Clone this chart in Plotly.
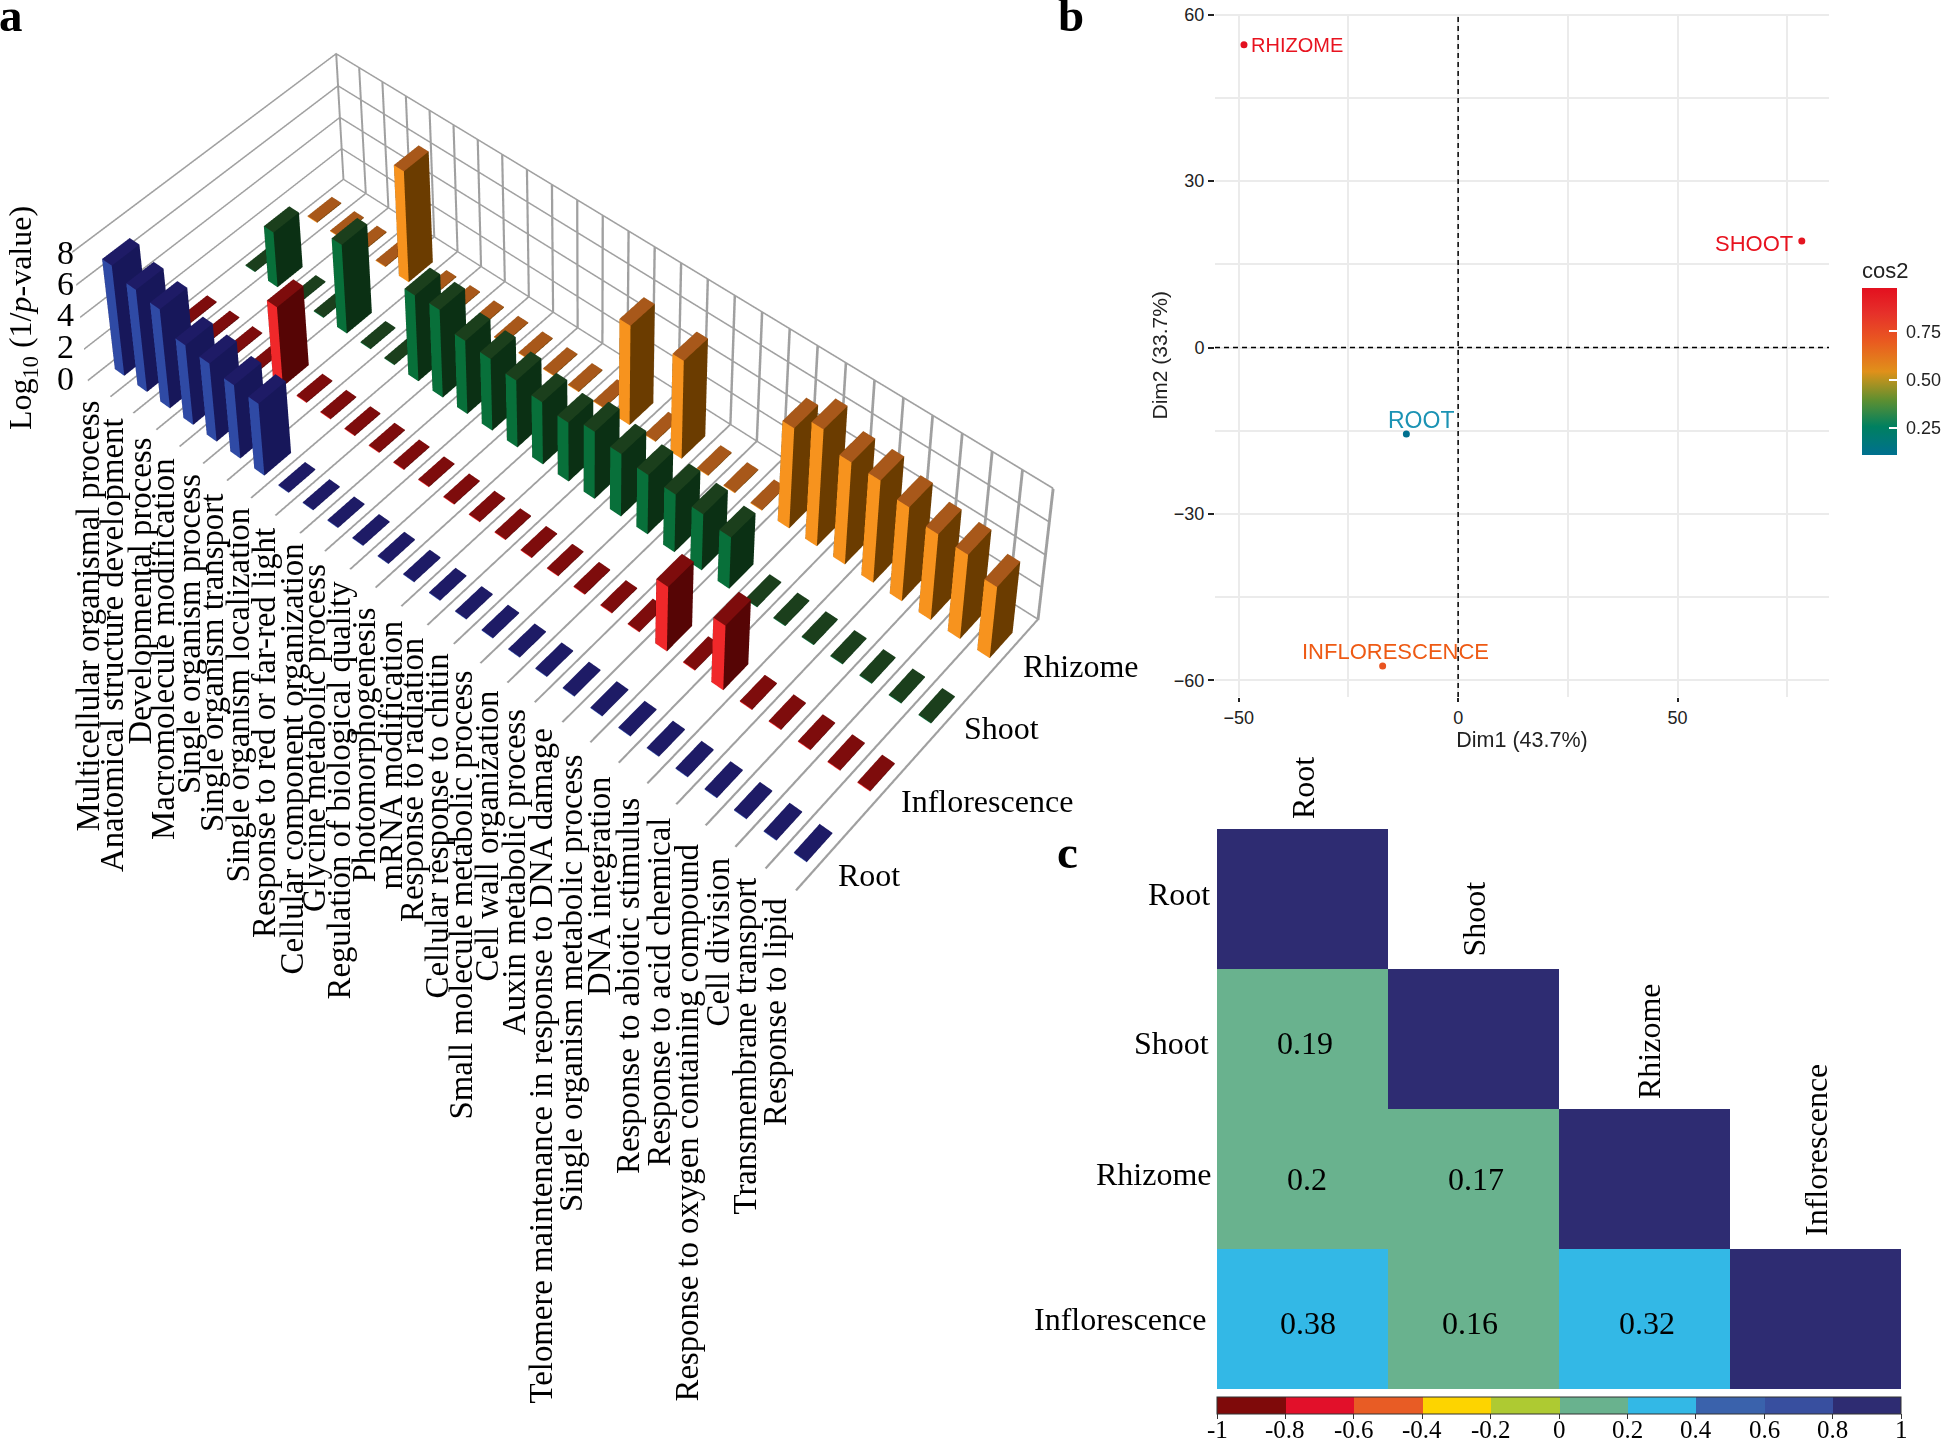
import plotly.graph_objects as go

W, H = 1944, 1441
# The figure is taller than the window and lifted by PT so the 3-D scene's optical centre
# falls above the visible page, which is what the reference's perspective needs.
PL, PT = 0, 1800
W2, H2 = W + PL, H + PT
def fx(p): return (p + PL) / W2
def fy(p): return 1 - (p + PT) / H2

# ---------- panel a data ----------
terms = ["Multicellular organismal process","Anatomical structure development","Developmental process",
 "Macromolecule modification","Single organism process","Single organism transport","Single organism localization",
 "Response to red or far-red light","Cellular component organization","Glycine metabolic process",
 "Regulation of biological quality","Photomorphogenesis","mRNA modification","Response to radiation",
 "Cellular response to chitin","Small molecule metabolic process","Cell wall organization","Auxin metabolic process",
 "Telomere maintenance in response to DNA damage","Single organism metabolic process","DNA integration",
 "Response to abiotic stimulus","Response to acid chemical","Response to oxygen containing compound","Cell division",
 "Transmembrane transport","Response to lipid"]
samples = ["Root","Inflorescence","Shoot","Rhizome"]
root_vals = [6.9,6.4,6.2,5.0,4.9,4.6,4.5,.05,.05,.05,.05,.05,.05,.05,.05,.05,.05,.05,.05,.05,.05,.05,.05,.05,.05,.05,.05]
infl_vals = [.05,.05,.05,.05,5.0,.05,.05,.05,.05,.05,.05,.05,.05,.05,.05,.05,.05,.05,.05,4.0,.05,4.0,.05,.05,.05,.05,.05]
shoot_vals = [.05,3.5,.05,.05,5.6,.05,.05,5.4,5.5,4.6,4.5,4.2,3.9,3.7,4.2,3.9,3.7,3.6,3.5,3.2,.05,.05,.05,.05,.05,.05,.05]
rhizome_vals = [.05,.05,.05,.05,7.0,.05,.05,.05,.05,.05,.05,.05,.05,6.2,.05,6.1,.05,.05,.05,6.2,7.2,6.3,6.3,5.8,5.3,5.2,4.4]
z_ticks = [0,2,4,6,8]

# ---------- panel b data ----------
pca_names = ["RHIZOME","SHOOT","ROOT","INFLORESCENCE"]
dim1 = [-48.8,78.3,-11.8,-17.2]
dim2 = [54.6,19.2,-15.6,-57.4]
cos2 = [0.97,0.95,0.10,0.72]

# ---------- panel c data ----------
corr_labels = ["Root","Shoot","Rhizome","Inflorescence"]
corr_root = [1,None,None,None]
corr_shoot = [0.19,1,None,None]
corr_rhizome = [0.2,0.17,1,None]
corr_infl = [0.38,0.16,0.32,1]
corr_ticks = [-1,-0.8,-0.6,-0.4,-0.2,0,0.2,0.4,0.6,0.8,1]

SERIF = "Liberation Serif"
SANS = "Liberation Sans"

# ---------- panel a bars ----------
BW, BD = 0.42, 0.40
series_colors = [("#2f4aa5","#17175a","#1e1b66"),("#f0282a","#560505","#7e0c0c"),
                 ("#08703a","#0b3014","#1b3f1c"),("#f7931e","#6b3c00","#a8581a")]
flat = dict(ambient=1,diffuse=0,specular=0,roughness=1,fresnel=0)
def bar_mesh(values, row, cols):
    xs,ys,zs,ii,jj,kk,fc = [],[],[],[],[],[],[]
    bright,dark,top = cols
    for t,v in enumerate(values):
        n = len(xs)
        for a,b,c in [(-1,-1,0),(1,-1,0),(1,1,0),(-1,1,0),(-1,-1,1),(1,-1,1),(1,1,1),(-1,1,1)]:
            xs.append(t+a*BW/2); ys.append(row+b*BD/2); zs.append(c*v)
        quads = [((4,5,6,7),top),((0,1,5,4),bright),((1,2,6,5),dark),((3,0,4,7),dark),((2,3,7,6),dark)]
        for q,col in quads:
            ii+=[n+q[0],n+q[0]]; jj+=[n+q[1],n+q[2]]; kk+=[n+q[2],n+q[3]]; fc+=[col,col]
    return go.Mesh3d(x=xs,y=ys,z=zs,i=ii,j=jj,k=kk,facecolor=fc,flatshading=True,hoverinfo="skip",showscale=False,lighting=flat)

fig = go.Figure()
for row,vals in enumerate([root_vals,infl_vals,shoot_vals,rhizome_vals]):
    fig.add_trace(bar_mesh(vals,row,series_colors[row]))

# grid lines, drawn as thin strips on the floor and walls so they keep their weight
x_lines = [k-.5 for k in range(len(terms)+1)]
y0, y1 = -.5, len(samples)-.5
gx,gy,gz,gi,gj,gk = [],[],[],[],[],[]
def quad(*pts):
    n = len(gx)
    for p in pts:
        gx.append(p[0]); gy.append(p[1]); gz.append(p[2])
    gi.extend([n,n]); gj.extend([n+1,n+2]); gk.extend([n+2,n+3])
HF, HX, HZ = .03, .045, .055
for xl in x_lines:
    quad((xl-HF,y0,0),(xl+HF,y0,0),(xl+HF,y1,0),(xl-HF,y1,0))
    quad((xl-HX,y1,0),(xl+HX,y1,0),(xl+HX,y1,z_ticks[-1]),(xl-HX,y1,z_ticks[-1]))
for zl in z_ticks:
    quad((x_lines[0],y1,zl-HZ),(x_lines[-1],y1,zl-HZ),(x_lines[-1],y1,zl+HZ),(x_lines[0],y1,zl+HZ))
    quad((x_lines[0],y0,zl-HZ),(x_lines[0],y1,zl-HZ),(x_lines[0],y1,zl+HZ),(x_lines[0],y0,zl+HZ))
fig.add_trace(go.Mesh3d(x=gx,y=gy,z=gz,i=gi,j=gj,k=gk,color="#a0a0a0",flatshading=True,hoverinfo="skip",showscale=False,lighting=flat))

blank = dict(showgrid=False,showticklabels=False,ticks="",zeroline=False,showline=False,showspikes=False,showbackground=False,title=dict(text=""))
# the ranges are padded evenly so strips lying on the box faces are not clipped by the axis bounds
XPAD, YPAD, ZPAD = .2, .1, .2
fig.update_layout(scene=dict(
    domain=dict(x=[0,(PL+1100)/W2],y=[1-(PT+950)/H2,1]),
    xaxis=dict(range=[x_lines[0]-XPAD,x_lines[-1]+XPAD],**blank),
    yaxis=dict(range=[y0-YPAD,y1+YPAD],**blank),
    zaxis=dict(range=[-ZPAD,8+ZPAD],**blank),
    aspectmode="manual",aspectratio=dict(x=.7811*(27+2*XPAD)/27,y=.3264*(4+2*YPAD)/4,z=.1585*(8+2*ZPAD)/8),
    camera=dict(eye=dict(x=1.2487,y=-1.4243,z=2.147),
                center=dict(x=-.3033,y=.3674,z=.5412),
                up=dict(x=-.3608,y=.4295,z=.8279),
                projection=dict(type="perspective")),
    bgcolor="rgba(0,0,0,0)"))

anns = []
def ann(x,y,text,size,font=SERIF,color="#000",angle=0,xa="center",ya="middle",**kw):
    anns.append(dict(x=fx(x),y=fy(y),xref="paper",yref="paper",text=text,showarrow=False,textangle=angle,xanchor=xa,yanchor=ya,
                     font=dict(family=font,size=size,color=color),borderpad=0,**kw))

term_x = [87,112,139,163,189,212,237,264,291,314,338,363,390,412,436,460,486,514,540,571,599,628,658,686,717,744,775]
term_top = [400,417,437,457,473,493,507,527,543,563,580,607,620,637,653,670,690,708,728,753,775,797,817,844,857,877,897]
for t,x,y in zip(terms,term_x,term_top):
    ann(x,y,t,32.8,angle=-90,ya="top")
for s,(x,y) in zip(samples,[(869,875),(987,801),(1001,728),(1081,666)]):
    ann(x,y,s,32)
for lab,y in zip(["8","6","4","2","0"],[252,283,314,346,378]):
    ann(65,y,lab,34)
ann(22,318,"Log<sub>10</sub> (1/<i>p</i>-value)",32,angle=-90)
for lab,x,y in [("a",11,15),("b",1071,15),("c",1067,852)]:
    ann(x,y,f"<b>{lab}</b>",47)

# ---------- panel b ----------
cos_scale = [[0,"#00708f"],[.17,"#008060"],[.33,"#5f8f30"],[.45,"#b9921f"],[.5,"#e0901a"],[.68,"#e95a20"],[.85,"#e6302a"],[1,"#e3101f"]]
fig.add_trace(go.Scatter(x=dim1,y=dim2,mode="markers",xaxis="x",yaxis="y",hoverinfo="skip",showlegend=False,
    marker=dict(size=7,color=cos2,colorscale=cos_scale,cmin=.108,cmax=.976,
        colorbar=dict(x=fx(1862),xanchor="left",y=fy(455),yanchor="bottom",len=197,lenmode="pixels",thickness=35,thicknessmode="pixels",
            xpad=0,ypad=0,outlinewidth=0,tickvals=[.25,.5,.75],ticktext=["\u00a00.25","\u00a00.50","\u00a00.75"],ticks="inside",tickcolor="white",ticklen=8,tickwidth=1.5,
            tickfont=dict(family=SANS,size=18,color="#222"),title=dict(text="cos2",side="top",font=dict(family=SANS,size=22,color="#222"))))))
label_cols = ["#e8131f","#e8131f","#1b93b4","#ee5a14"]
label_sizes = [20,22,23,22]
shifts = [(5,0,"left"),(-7,-2,"right"),(14.5,14,"center"),(13,14,"center")]
for n,xv,yv,c,sz,(dx,dy,a) in zip(pca_names,dim1,dim2,label_cols,label_sizes,shifts):
    anns.append(dict(x=xv,y=yv,xref="x",yref="y",text=n,showarrow=False,xanchor=a,yanchor="middle",xshift=dx,yshift=dy,
                     font=dict(family=SANS,size=sz,color=c)))
gridb = dict(gridcolor="#ebebeb",gridwidth=1.5,zeroline=False,showline=False,ticks="outside",tickcolor="#222",tickwidth=1.5,
             tickfont=dict(family=SANS,size=18,color="#222"))
fig.update_layout(
    xaxis=dict(domain=[fx(1215),fx(1829)],range=[-55.4,84.5],anchor="y",tickvals=[-50,0,50],ticklen=4,
               minor=dict(tickvals=[-25,25,75],showgrid=True,gridcolor="#ebebeb",gridwidth=1.5,ticks=""),
               title=dict(text="Dim1 (43.7%)",font=dict(family=SANS,size=21.5,color="#222"),standoff=5),**gridb),
    yaxis=dict(domain=[fy(697),fy(13.6)],range=[-63,60.2],anchor="x",tickvals=[-60,-30,0,30,60],ticklen=6,
               minor=dict(tickvals=[-45,-15,15,45],showgrid=True,gridcolor="#ebebeb",gridwidth=1.5,ticks=""),
               title=dict(text="Dim2 (33.7%)",font=dict(family=SANS,size=21,color="#222"),standoff=0),**gridb))
fig.add_shape(type="line",xref="x",yref="y",x0=0,x1=0,y0=-63,y1=60.2,line=dict(color="#000",width=1.5,dash="5px,4px"))
fig.add_shape(type="line",xref="x",yref="y",x0=-55.4,x1=84.5,y0=0,y1=0,line=dict(color="#000",width=1.5,dash="5px,4px"))

# ---------- panel c ----------
band_cols = ["#7f0a0a","#e2102a","#e85c25","#fdd400","#aeca32","#69b28e","#33b8e6","#3a62ac","#384f9f","#2e2c72"]
corr_scale = []
edge = lambda k: 0 if k==0 else (1 if k==10 else k/10+0.001)
for k,c in enumerate(band_cols):
    corr_scale += [[edge(k),c],[edge(k+1),c]]
fig.add_trace(go.Heatmap(z=[corr_root,corr_shoot,corr_rhizome,corr_infl],x=corr_labels,y=corr_labels,xaxis="x2",yaxis="y2",
    zmin=-1,zmax=1,colorscale=corr_scale,hoverinfo="skip",
    colorbar=dict(orientation="h",x=fx(1217),xanchor="left",y=fy(1397),yanchor="top",len=684,lenmode="pixels",thickness=17,thicknessmode="pixels",
        xpad=0,ypad=0,outlinewidth=1,outlinecolor="#333",tickmode="array",tickvals=corr_ticks,showticklabels=False,
        ticks="outside",ticklen=5,tickcolor="#333")))
for v in corr_ticks:
    ann(1217+(v+1)/2*684,1429,str(v),25)
fig.update_layout(
    xaxis2=dict(domain=[fx(1217),fx(1901)],anchor="y2",showticklabels=False,ticks="",showgrid=False,zeroline=False,type="category"),
    yaxis2=dict(domain=[fy(1389),fy(829)],anchor="x2",autorange="reversed",showticklabels=False,ticks="",showgrid=False,zeroline=False,type="category"))
cell_shift = {(1,0):(2,-4),(2,0):(4,0),(2,1):(2,0),(3,0):(5,-4),(3,1):(-4,-4),(3,2):(2,-4)}
for r,row in enumerate([corr_root,corr_shoot,corr_rhizome,corr_infl]):
    for c,v in enumerate(row):
        if v is not None and v != 1:
            dx,dy = cell_shift[(r,c)]
            anns.append(dict(x=corr_labels[c],y=corr_labels[r],xref="x2",yref="y2",text=str(v),showarrow=False,xshift=dx,yshift=dy,
                             font=dict(family=SERIF,size=32,color="#000")))
for s,x,y in zip(corr_labels,[1211,1210,1213,1207],[894,1043,1174,1319]):
    ann(x,y,s,32,xa="right")
for s,x,y in zip(corr_labels,[1303,1473,1649,1816],[820,958,1100,1237]):
    ann(x,y,s,32,angle=-90,ya="bottom")

fig.update_layout(width=W2,height=H2,margin=dict(l=0,r=0,t=0,b=0,autoexpand=False),paper_bgcolor="white",plot_bgcolor="white",showlegend=False,annotations=anns)
fig.write_html("out.html",config={"displayModeBar":False},
  post_script=f"document.body.style.margin='0';document.documentElement.style.overflow='hidden';var g=document.getElementById('{{plot_id}}');g.style.position='absolute';g.style.left='-{PL}px';g.style.top='-{PT}px';")
